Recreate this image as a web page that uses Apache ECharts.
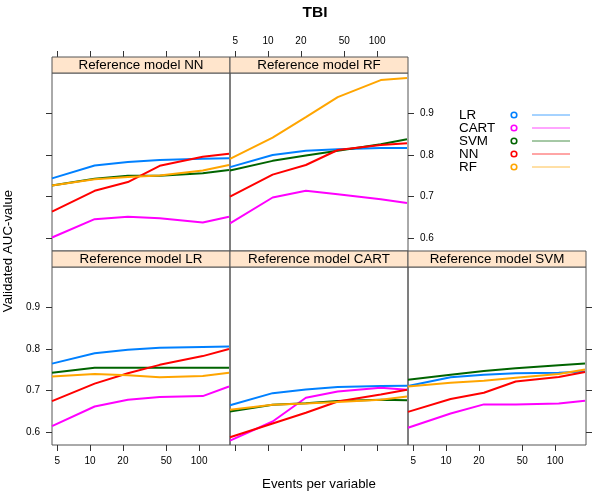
<!DOCTYPE html>
<html>
<head>
<meta charset="utf-8">
<script src="https://cdn.jsdelivr.net/npm/echarts@6/dist/echarts.min.js"></script>
<style>html,body{margin:0;padding:0;background:#fff}#c{width:600px;height:502px}</style>
</head>
<body>
<div id="c"></div>
<script>
// ---- data ----
const epv = [4.47, 11.0, 22.2, 43.5, 108, 188];
const methods = ['LR', 'CART', 'SVM', 'NN', 'RF'];
const xTicks = [5, 10, 20, 50, 100];
const yTicks = [0.6, 0.7, 0.8, 0.9];
const panelTitles = ['Reference model NN', 'Reference model RF', 'Reference model LR', 'Reference model CART', 'Reference model SVM'];

// rows: LR, CART, SVM, NN, RF
const aucRefNN = [
  [0.744, 0.775, 0.783, 0.788, 0.791, 0.792],
  [0.602, 0.646, 0.652, 0.648, 0.638, 0.652],
  [0.727, 0.743, 0.750, 0.750, 0.756, 0.764],
  [0.664, 0.714, 0.735, 0.774, 0.796, 0.803],
  [0.727, 0.742, 0.747, 0.751, 0.763, 0.776]
];
const aucRefRF = [
  [0.771, 0.800, 0.810, 0.814, 0.817, 0.817],
  [0.636, 0.698, 0.714, 0.706, 0.694, 0.685],
  [0.763, 0.786, 0.799, 0.810, 0.826, 0.838],
  [0.700, 0.753, 0.776, 0.812, 0.824, 0.828],
  [0.791, 0.842, 0.891, 0.939, 0.980, 0.985]
];
const aucRefLR = [
  [0.765, 0.790, 0.798, 0.803, 0.805, 0.806],
  [0.615, 0.662, 0.678, 0.685, 0.687, 0.710],
  [0.743, 0.755, 0.755, 0.755, 0.755, 0.755],
  [0.675, 0.717, 0.742, 0.762, 0.783, 0.800],
  [0.734, 0.740, 0.737, 0.732, 0.735, 0.743]
];
const aucRefCART = [
  [0.665, 0.694, 0.703, 0.709, 0.711, 0.712],
  [0.580, 0.626, 0.683, 0.698, 0.707, 0.702],
  [0.650, 0.666, 0.670, 0.675, 0.678, 0.677],
  [0.588, 0.621, 0.647, 0.674, 0.691, 0.702],
  [0.654, 0.666, 0.669, 0.673, 0.678, 0.686]
];
const aucRefSVM = [
  [0.711, 0.732, 0.738, 0.742, 0.743, 0.746],
  [0.611, 0.645, 0.667, 0.667, 0.669, 0.676],
  [0.726, 0.738, 0.747, 0.754, 0.761, 0.765],
  [0.649, 0.680, 0.695, 0.722, 0.733, 0.745],
  [0.710, 0.719, 0.724, 0.731, 0.740, 0.751]
];
const panelData = [aucRefNN, aucRefRF, aucRefLR, aucRefCART, aucRefSVM];

// ---- style / layout ----
const COLORS = ['#0080ff', '#ff00ff', '#006400', '#ff0000', '#ffa500'];
const FONT = '"Liberation Sans", Arial, Helvetica, sans-serif';
const COLX = [52, 230, 408];
const ROWY = [73, 267];
const PW = 178, PH = 178, STRIP = 16;
const XMIN = 4.47, XMAX = 192;
const YMIN = 0.5695, YMAX = 0.997;
// panel placement: [col, row]
const place = [[0, 0], [1, 0], [0, 1], [1, 1], [2, 1]];
// axis config per panel
const xCfg = [
  {pos: 'top', labels: false}, {pos: 'top', labels: true},
  {pos: 'bottom', labels: true}, {pos: 'bottom', labels: false}, {pos: 'bottom', labels: true}
];
const yCfg = [
  {pos: 'left', ticks: true, labels: false}, {pos: 'right', ticks: true, labels: true},
  {pos: 'left', ticks: true, labels: true}, {pos: 'left', ticks: false, labels: false},
  {pos: 'right', ticks: true, labels: false}
];

const lg = v => Math.log10(v);
const tickLine = {color: '#333', width: 1};
const grids = [], xAxes = [], yAxes = [], series = [], graphics = [];

place.forEach((p, i) => {
  const left = COLX[p[0]], top = ROWY[p[1]];
  grids.push({left: left, top: top, width: PW, height: PH, show: true,
    borderColor: '#555', borderWidth: 1, backgroundColor: 'transparent',
    outerBoundsMode: 'none', containLabel: false});
  xAxes.push({
    gridIndex: i, type: 'value', position: xCfg[i].pos,
    offset: xCfg[i].pos === 'top' ? STRIP : 0,
    min: lg(XMIN), max: lg(XMAX),
    axisLine: {show: false}, splitLine: {show: false},
    axisTick: {show: true, length: 6, inside: false, customValues: xTicks.map(lg), lineStyle: tickLine},
    axisLabel: {show: xCfg[i].labels, customValues: xTicks.map(lg), margin: 11,
      fontSize: 10, color: '#000', fontFamily: FONT,
      formatter: v => String(Math.round(Math.pow(10, v)))}
  });
  yAxes.push({
    gridIndex: i, type: 'value', position: yCfg[i].pos,
    min: YMIN, max: YMAX,
    axisLine: {show: false}, splitLine: {show: false},
    axisTick: {show: yCfg[i].ticks, length: 6, inside: false, customValues: yTicks, lineStyle: tickLine},
    axisLabel: {show: yCfg[i].labels, customValues: yTicks, margin: 12,
      fontSize: 10, color: '#000', fontFamily: FONT,
      formatter: v => v.toFixed(1)}
  });
  panelData[i].forEach((vals, m) => {
    series.push({
      type: 'line', name: methods[m], xAxisIndex: i, yAxisIndex: i,
      data: vals.map((v, k) => [lg(epv[k]), v]),
      showSymbol: false, symbol: 'none', silent: true, animation: false,
      lineStyle: {color: COLORS[m], width: 2}, itemStyle: {color: COLORS[m]},
      z: 2 + m
    });
  });
  // strip
  graphics.push({type: 'rect', shape: {x: left, y: top - STRIP, width: PW, height: STRIP},
    style: {fill: '#ffe5cc', stroke: '#555', lineWidth: 1}, z: 10});
  graphics.push({type: 'text', x: left + PW / 2, y: top - STRIP / 2,
    style: {text: panelTitles[i], fill: '#000', font: '13.4px ' + FONT, align: 'center', verticalAlign: 'middle'}, z: 11});
});

// legend
methods.forEach((m, k) => {
  const y = 115 + k * 13;
  graphics.push({type: 'text', x: 459, y: y,
    style: {text: m, fill: '#000', font: '13.4px ' + FONT, align: 'left', verticalAlign: 'middle'}, z: 11});
  graphics.push({type: 'circle', shape: {cx: 514, cy: y, r: 2.8},
    style: {fill: 'none', stroke: COLORS[k], lineWidth: 1.6}, z: 11});
  graphics.push({type: 'line', shape: {x1: 532, y1: y, x2: 570, y2: y},
    style: {stroke: COLORS[k], lineWidth: 1, opacity: 0.7}, z: 11});
});

// titles
graphics.push({type: 'text', x: 315, y: 13,
  style: {text: 'TBI', fill: '#000', font: 'bold 15.5px ' + FONT, align: 'center', verticalAlign: 'middle'}, z: 11});
graphics.push({type: 'text', x: 319, y: 484,
  style: {text: 'Events per variable', fill: '#000', font: '13.3px ' + FONT, align: 'center', verticalAlign: 'middle'}, z: 11});
graphics.push({type: 'text', x: 8, y: 251, rotation: Math.PI / 2,
  style: {text: 'Validated AUC-value', fill: '#000', font: '13.3px ' + FONT, align: 'center', verticalAlign: 'middle'}, z: 11});

const chart = echarts.init(document.getElementById('c'), null, {renderer: 'canvas'});
chart.setOption({
  animation: false,
  backgroundColor: '#fff',
  grid: grids, xAxis: xAxes, yAxis: yAxes, series: series,
  graphic: graphics
});
</script>
</body>
</html>
